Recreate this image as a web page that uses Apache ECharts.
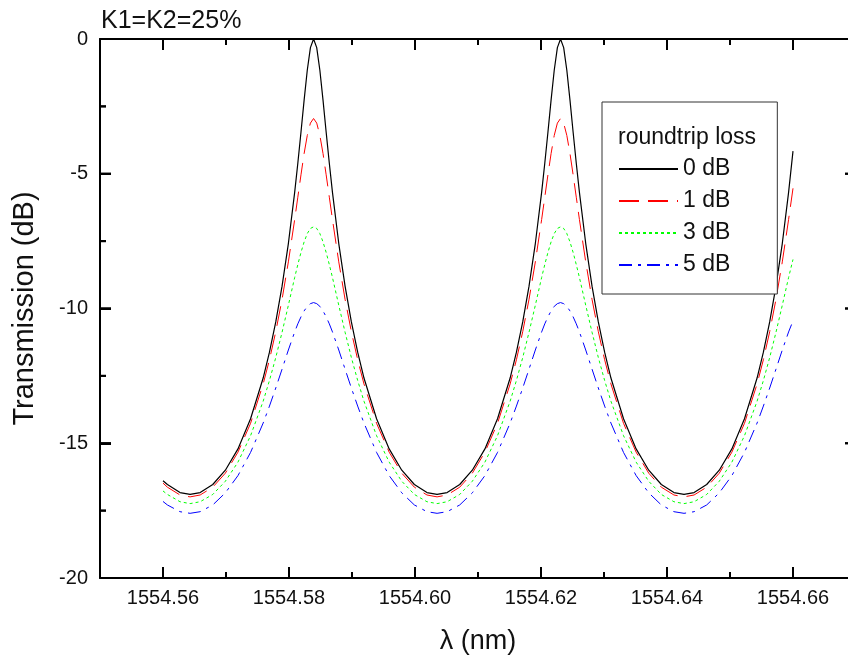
<!DOCTYPE html>
<html><head><meta charset="utf-8">
<script src="https://cdn.jsdelivr.net/npm/echarts@6/dist/echarts.min.js"></script>
<style>html,body{margin:0;padding:0;background:#fff}#c{width:848px;height:661px}</style>
</head><body><div id="c"></div>
<script>
// Wavelength sample positions (nm)
const wavelength = [
  1554.5600, 1554.5607, 1554.5627, 1554.5643,
  1554.5659, 1554.5679, 1554.5699, 1554.5719, 1554.5739, 1554.5759, 1554.5769, 1554.5779, 1554.5789, 1554.5799, 1554.5809, 1554.5814, 1554.5819, 1554.5824, 1554.5829, 1554.5834, 1554.5839,
  1554.5844, 1554.5849, 1554.5854, 1554.5859, 1554.5864, 1554.5869, 1554.5879, 1554.5889, 1554.5899, 1554.5909, 1554.5919, 1554.5939, 1554.5959, 1554.5979, 1554.5999, 1554.6019, 1554.6035,
  1554.6051, 1554.6071, 1554.6091, 1554.6111, 1554.6131, 1554.6151, 1554.6161, 1554.6171, 1554.6181, 1554.6191, 1554.6201, 1554.6206, 1554.6211, 1554.6216, 1554.6221, 1554.6226, 1554.6231,
  1554.6236, 1554.6241, 1554.6246, 1554.6251, 1554.6256, 1554.6261, 1554.6271, 1554.6281, 1554.6291, 1554.6301, 1554.6311, 1554.6331, 1554.6351, 1554.6371, 1554.6391, 1554.6411, 1554.6427,
  1554.6443, 1554.6463, 1554.6483, 1554.6503, 1554.6523, 1554.6543, 1554.6553, 1554.6563, 1554.6573, 1554.6583, 1554.6593, 1554.6600
];
// Transmission (dB) for each roundtrip loss
const loss0dB = [
  -16.39, -16.53, -16.83, -16.90,
  -16.83, -16.53, -16.00, -15.21, -14.09, -12.58, -11.62, -10.50, -9.17, -7.59, -5.69, -4.61, -3.46, -2.27, -1.16, -0.32, 0.00,
  -0.32, -1.16, -2.27, -3.46, -4.61, -5.69, -7.59, -9.17, -10.50, -11.62, -12.58, -14.09, -15.21, -16.00, -16.53, -16.83, -16.90,
  -16.83, -16.53, -16.00, -15.21, -14.09, -12.58, -11.62, -10.50, -9.17, -7.59, -5.69, -4.61, -3.46, -2.27, -1.16, -0.32, 0.00,
  -0.32, -1.16, -2.27, -3.46, -4.61, -5.69, -7.59, -9.17, -10.50, -11.62, -12.58, -14.09, -15.21, -16.00, -16.53, -16.83, -16.90,
  -16.83, -16.53, -16.00, -15.21, -14.09, -12.58, -11.62, -10.50, -9.17, -7.59, -5.69, -4.16
];
const loss1dB = [
  -16.48, -16.63, -16.92, -16.99,
  -16.92, -16.63, -16.11, -15.33, -14.26, -12.80, -11.90, -10.86, -9.66, -8.27, -6.70, -5.87, -5.04, -4.25, -3.58, -3.12, -2.95,
  -3.12, -3.58, -4.25, -5.04, -5.87, -6.70, -8.27, -9.66, -10.86, -11.90, -12.80, -14.26, -15.33, -16.11, -16.63, -16.92, -16.99,
  -16.92, -16.63, -16.11, -15.33, -14.26, -12.80, -11.90, -10.86, -9.66, -8.27, -6.70, -5.87, -5.04, -4.25, -3.58, -3.12, -2.95,
  -3.12, -3.58, -4.25, -5.04, -5.87, -6.70, -8.27, -9.66, -10.86, -11.90, -12.80, -14.26, -15.33, -16.11, -16.63, -16.92, -16.99,
  -16.92, -16.63, -16.11, -15.33, -14.26, -12.80, -11.90, -10.86, -9.66, -8.27, -6.70, -5.54
];
const loss3dB = [
  -16.77, -16.90, -17.17, -17.24,
  -17.17, -16.90, -16.41, -15.70, -14.72, -13.44, -12.67, -11.82, -10.88, -9.88, -8.85, -8.37, -7.92, -7.53, -7.22, -7.03, -6.97,
  -7.03, -7.22, -7.53, -7.92, -8.37, -8.85, -9.88, -10.88, -11.82, -12.67, -13.44, -14.72, -15.70, -16.41, -16.90, -17.17, -17.24,
  -17.17, -16.90, -16.41, -15.70, -14.72, -13.44, -12.67, -11.82, -10.88, -9.88, -8.85, -8.37, -7.92, -7.53, -7.22, -7.03, -6.97,
  -7.03, -7.22, -7.53, -7.92, -8.37, -8.85, -9.88, -10.88, -11.82, -12.67, -13.44, -14.72, -15.70, -16.41, -16.90, -17.17, -17.24,
  -17.17, -16.90, -16.41, -15.70, -14.72, -13.44, -12.67, -11.82, -10.88, -9.88, -8.85, -8.18
];
const loss5dB = [
  -17.16, -17.29, -17.54, -17.60,
  -17.54, -17.29, -16.84, -16.20, -15.34, -14.25, -13.62, -12.95, -12.25, -11.54, -10.87, -10.57, -10.31, -10.09, -9.92, -9.82, -9.78,
  -9.82, -9.92, -10.09, -10.31, -10.57, -10.87, -11.54, -12.25, -12.95, -13.62, -14.25, -15.34, -16.20, -16.84, -17.29, -17.54, -17.60,
  -17.54, -17.29, -16.84, -16.20, -15.34, -14.25, -13.62, -12.95, -12.25, -11.54, -10.87, -10.57, -10.31, -10.09, -9.92, -9.82, -9.78,
  -9.82, -9.92, -10.09, -10.31, -10.57, -10.87, -11.54, -12.25, -12.95, -13.62, -14.25, -15.34, -16.20, -16.84, -17.29, -17.54, -17.60,
  -17.54, -17.29, -16.84, -16.20, -15.34, -14.25, -13.62, -12.95, -12.25, -11.54, -10.87, -10.46
];
const seriesNames = ['0 dB', '1 dB', '3 dB', '5 dB'];
// Axis ranges and tick values
const xRange = [1554.55, 1554.67];
const xMajorTicks = [1554.56, 1554.58, 1554.60, 1554.62, 1554.64, 1554.66];
const xMinorTicks = [1554.57, 1554.59, 1554.61, 1554.63, 1554.65];
const yRange = [-20, 0];
const yMajorTicks = [-20, -15, -10, -5, 0];
const yMinorTicks = [-17.5, -12.5, -7.5, -2.5];
const chartTitle = 'K1=K2=25%';
const legendTitle = 'roundtrip loss';
const xName = 'λ (nm)';
const yName = 'Transmission (dB)';

const FONT = '"Liberation Sans", Arial, sans-serif';
const BLACK = '#000';
const pairs = vals => wavelength.map((w, i) => [w, vals[i]]);
const MAJOR_LEN = 11, MINOR_LEN = 6;

// tick marks drawn inward on all four sides, positioned through the axes' scales
// each item: [x value, y value, kind] kind 0/1 = x major/minor, 2/3 = y major/minor
const tickData = []
  .concat(xMajorTicks.map(v => [v, yRange[0], 0]))
  .concat(xMinorTicks.map(v => [v, yRange[0], 1]))
  .concat(yMajorTicks.map(v => [xRange[0], v, 2]))
  .concat(yMinorTicks.map(v => [xRange[0], v, 3]));

function tickLines(kind, px, py, box) {
  const top = box.y, bottom = box.y + box.height, left = box.x, right = box.x + box.width;
  if (kind === 0 || kind === 1) {
    const len = kind === 0 ? MAJOR_LEN : MINOR_LEN;
    return [[px, bottom, px, bottom - len], [px, top, px, top + len]];
  }
  const len = kind === 2 ? MAJOR_LEN : MINOR_LEN;
  return [[left, py, left + len, py], [right, py, right - len, py]];
}

function renderTick(params, api) {
  const p = api.coord([api.value(0), api.value(1)]);
  const segs = tickLines(api.value(2), p[0], p[1], params.coordSys);
  return { type: 'group', children: segs.map(s => ({
    type: 'line', shape: { x1: s[0], y1: s[1], x2: s[2], y2: s[3] },
    style: { stroke: BLACK, lineWidth: 2, fill: null } })) };
}

const styles = [
  { color: '#000000', type: 'solid', width: 1.2 },
  { color: '#ff0000', type: [20, 9], width: 1 },
  { color: '#00ff00', type: [3, 3], width: 1 },
  { color: '#0000ff', type: [13, 6, 3, 6], width: 1 }
];
const allVals = [loss0dB, loss1dB, loss3dB, loss5dB];

const chart = echarts.init(document.getElementById('c'));
chart.setOption({
  animation: false,
  title: [
    { text: chartTitle, left: 101, top: 9, padding: 0,
      textStyle: { color: '#111', fontSize: 25, fontWeight: 'normal', fontFamily: FONT } },
    { text: legendTitle, left: 618, top: 126, padding: 0, z: 20,
      textStyle: { color: '#111', fontSize: 23, fontWeight: 'normal', fontFamily: FONT } }
  ],
  grid: { left: 100, top: 39, width: 756, height: 539, outerBoundsMode: 'none', containLabel: false },
  xAxis: [
    { type: 'value', position: 'bottom', min: xRange[0], max: xRange[1], interval: 0.01,
      splitLine: { show: false },
      axisLine: { show: true, onZero: false, lineStyle: { color: BLACK, width: 2 } },
      axisTick: { show: true, inside: true, length: MINOR_LEN, lineStyle: { color: BLACK, width: 2 } },
      axisLabel: { show: true, margin: 10, color: '#111', fontSize: 20, fontFamily: FONT,
        formatter: v => xMajorTicks.some(t => Math.abs(t - v) < 0.001) ? Number(v).toFixed(2) : '' },
      name: xName, nameLocation: 'middle', nameGap: 50,
      nameTextStyle: { color: '#111', fontSize: 27, fontFamily: FONT } },
    { type: 'value', position: 'top', min: xRange[0], max: xRange[1],
      splitLine: { show: false }, axisTick: { show: false }, axisLabel: { show: false },
      axisLine: { show: true, onZero: false, lineStyle: { color: BLACK, width: 2 } } }
  ],
  yAxis: [
    { type: 'value', position: 'left', min: yRange[0], max: yRange[1], interval: 5,
      splitLine: { show: false },
      axisLine: { show: true, onZero: false, lineStyle: { color: BLACK, width: 2 } },
      axisTick: { show: true, inside: true, length: MAJOR_LEN, lineStyle: { color: BLACK, width: 2 } },
      axisLabel: { show: true, margin: 12, color: '#111', fontSize: 20, fontFamily: FONT },
      name: yName, nameLocation: 'middle', nameGap: 61,
      nameTextStyle: { color: '#111', fontSize: 29, fontFamily: FONT } },
    { type: 'value', position: 'right', min: yRange[0], max: yRange[1],
      splitLine: { show: false }, axisTick: { show: false }, axisLabel: { show: false },
      axisLine: { show: true, onZero: false, lineStyle: { color: BLACK, width: 2 } } }
  ],
  legend: {
    orient: 'vertical', left: 602, top: 102, padding: [51, 47, 13, 16], itemGap: 0,
    itemWidth: 59, itemHeight: 10, selectedMode: false,
    backgroundColor: '#fff', borderColor: '#333', borderWidth: 1,
    itemStyle: { opacity: 0 },
    data: seriesNames,
    textStyle: { color: '#111', fontSize: 23, lineHeight: 32, fontFamily: FONT }
  },
  series: allVals.map((vals, i) => ({
    name: seriesNames[i], type: 'line', xAxisIndex: 0, yAxisIndex: 0,
    data: pairs(vals), showSymbol: false, symbol: 'none', smooth: false,
    lineStyle: { color: styles[i].color, width: styles[i].width, type: styles[i].type },
    itemStyle: { color: styles[i].color },
    z: 3 - i
  })).concat([{
    name: 'ticks', type: 'custom', xAxisIndex: 0, yAxisIndex: 0,
    data: tickData, renderItem: renderTick, clip: false, silent: true,
    encode: { x: 0, y: 1 }, zlevel: 1, z: 5
  }])
});

// frame ticks also placed as graphic marks on a top layer, converted through the same axes
(function () {
  const gm = chart.getModel().getComponent('grid', 0);
  const rect = gm && gm.coordinateSystem ? gm.coordinateSystem.getRect() : { x: 100, y: 39, width: 756, height: 539 };
  const els = [];
  tickData.forEach(t => {
    const p = chart.convertToPixel({ gridIndex: 0 }, [t[0], t[1]]);
    tickLines(t[2], p[0], p[1], rect).forEach(s => els.push({
      type: 'line', silent: true, zlevel: 2, z: 100,
      shape: { x1: s[0], y1: s[1], x2: s[2], y2: s[3] },
      style: { stroke: BLACK, lineWidth: 2 }
    }));
  });
  chart.setOption({ graphic: { elements: els } });
})();
</script></body></html>
